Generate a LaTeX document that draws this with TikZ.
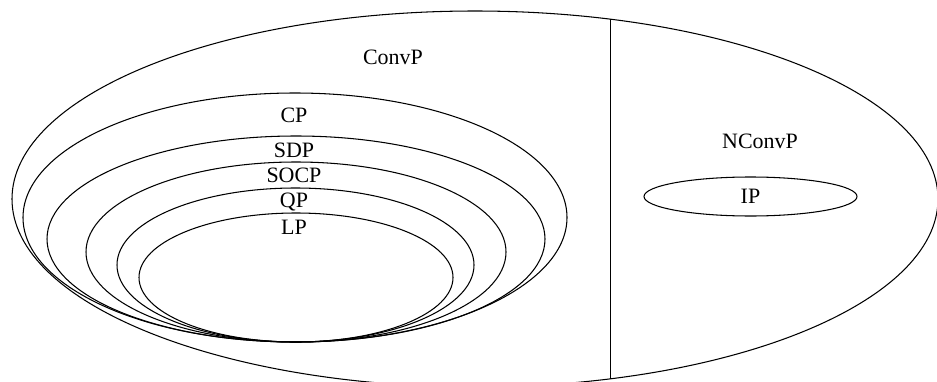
\documentclass[tikz,border=0pt]{standalone}
\usepackage{fontspec}
\setmainfont{Liberation Serif}
\usetikzlibrary{shapes.geometric}

\tikzset{set/.style={draw,line width=0.6pt},
         lbl/.style={inner sep=0pt,font=\fontsize{12.5}{15}\selectfont}}

\begin{document}
\begin{tikzpicture}[x=0.02cm,y=-0.02cm]
\useasboundingbox (0,0) rectangle (937,382);
\begin{scope}
\clip (0,0) rectangle (937,382);
% convex and nonconvex problems
\draw[set] (475,199) ellipse (463 and 188);
\coordinate (top) at (610.5,19.2);
\coordinate (bot) at (610.5,378.8);
\draw[set] (top) -- (bot);
\end{scope}
% nested convex classes
\draw[set] (295,217.5) ellipse (272 and 124.5);
\draw[set] (296,239) ellipse (249 and 103);
\draw[set] (296,252) ellipse (210 and 90);
\draw[set] (295.5,265) ellipse (178.5 and 77);
\draw[set] (296,277.5) ellipse (157 and 64.5);
\node[lbl] (convp) at (393,57) {ConvP};
\node[lbl] (cp) at (294,115) {CP};
\node[lbl] (sdp) at (294,150) {SDP};
\node[lbl] (socp) at (294,175.5) {SOCP};
\node[lbl] (qp) at (294,202) {QP};
\node[lbl] (lp) at (294,227) {LP};
% nonconvex side
\node[lbl] (nconvp) at (760,141) {NConvP};
\node[set,lbl,ellipse,minimum width=213*0.02cm,minimum height=39*0.02cm] (ip) at (750.5,196.5) {IP};
\end{tikzpicture}
\end{document}
